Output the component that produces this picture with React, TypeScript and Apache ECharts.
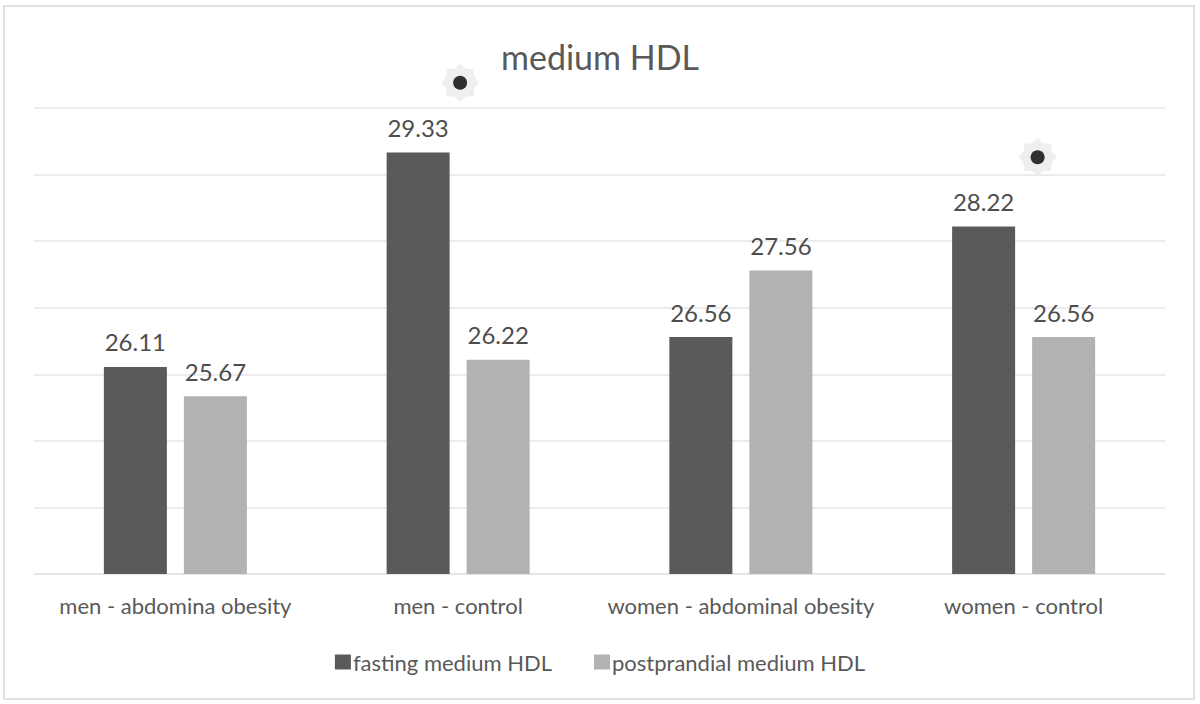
import React, { useEffect, useRef } from "react";
import * as echarts from "echarts";

const categories = [
  "men - abdomina obesity",
  "men - control",
  "women - abdominal obesity",
  "women - control",
];
const fastingValues = [26.11, 29.33, 26.56, 28.22];
const postprandialValues = [25.67, 26.22, 27.56, 26.56];
const significanceMarks: (number | null)[] = [null, 30.38, null, 29.26];
const seriesNames = ["fasting medium HDL", "postprandial medium HDL"];

const FONT = "Lato, 'Open Sans', sans-serif";
const TEXT = "#595959";

function starPath(points: number, outer: number, inner: number) {
  let d = "";
  for (let i = 0; i < points * 2; i++) {
    const r = i % 2 === 0 ? outer : inner;
    const a = (Math.PI * i) / points - Math.PI / 2;
    const x = (r * Math.cos(a)).toFixed(3);
    const y = (r * Math.sin(a)).toFixed(3);
    d += (i === 0 ? "M" : "L") + x + " " + y + " ";
  }
  return "path://" + d + "Z";
}

export default function App() {
  const ref = useRef<HTMLDivElement>(null);
  useEffect(() => {
    if (!ref.current) return;
    const chart = echarts.init(ref.current, undefined, { renderer: "svg" });
    const markData = significanceMarks.map((v, i) =>
      v === null ? null : { value: v, symbolOffset: i === 3 ? [14, 0] : [2, 0] }
    );
    const labelStyle = {
      show: true,
      position: "top",
      distance: 13,
      formatter: (p: any) => p.value.toFixed(2),
      fontFamily: FONT,
      fontSize: 24,
      color: "#4d4d4d",
    };
    chart.setOption({
      animation: false,
      backgroundColor: "#ffffff",
      title: {
        text: "medium HDL",
        left: "center",
        top: 34,
        textStyle: { fontFamily: FONT, fontSize: 34, fontWeight: "normal", color: TEXT },
      },
      graphic: [
        {
          type: "rect",
          shape: { x: 4, y: 6, width: 1190, height: 693 },
          style: { fill: "none", stroke: "#d9d9d9", lineWidth: 1.5 },
          silent: true,
        },
      ],
      legend: {
        bottom: 26,
        left: "center",
        itemWidth: 16,
        itemHeight: 15,
        itemGap: 42,
        icon: "rect",
        data: seriesNames,
        textStyle: { fontFamily: FONT, fontSize: 22, color: TEXT, padding: [0, 0, 0, -3] },
      },
      grid: { left: 34, right: 35, top: 108, bottom: 130 },
      xAxis: {
        type: "category",
        data: categories,
        axisLine: { lineStyle: { color: "#e3e3e3", width: 1.5 } },
        axisTick: { show: false },
        axisLabel: { interval: 0, fontFamily: FONT, fontSize: 22, color: TEXT, margin: 20 },
      },
      yAxis: {
        type: "value",
        min: 23,
        max: 30,
        interval: 1,
        axisLabel: { show: false },
        axisLine: { show: false },
        axisTick: { show: false },
        splitLine: { lineStyle: { color: "#e6e6e6", width: 1.5 } },
      },
      series: [
        {
          name: seriesNames[0],
          type: "bar",
          data: fastingValues,
          barWidth: 63,
          barGap: "27%",
          itemStyle: { color: "#5a5a5a" },
          label: labelStyle,
        },
        {
          name: seriesNames[1],
          type: "bar",
          data: postprandialValues,
          barWidth: 63,
          barGap: "27%",
          itemStyle: { color: "#b2b2b2" },
          label: labelStyle,
        },
        {
          name: "sigStar",
          type: "scatter",
          data: markData,
          clip: false,
          symbol: starPath(8, 20, 16),
          symbolSize: 38,
          itemStyle: { color: "#ebebeb" },
          silent: true,
          z: 5,
        },
        {
          name: "sigDot",
          type: "scatter",
          data: markData,
          clip: false,
          symbol: "circle",
          symbolSize: 14,
          itemStyle: { color: "#000000" },
          silent: true,
          z: 6,
        },
      ],
    });
    return () => chart.dispose();
  }, []);
  return (
    <div
      ref={ref}
      style={{ position: "fixed", left: 0, top: 0, width: 1200, height: 704 }}
    />
  );
}
